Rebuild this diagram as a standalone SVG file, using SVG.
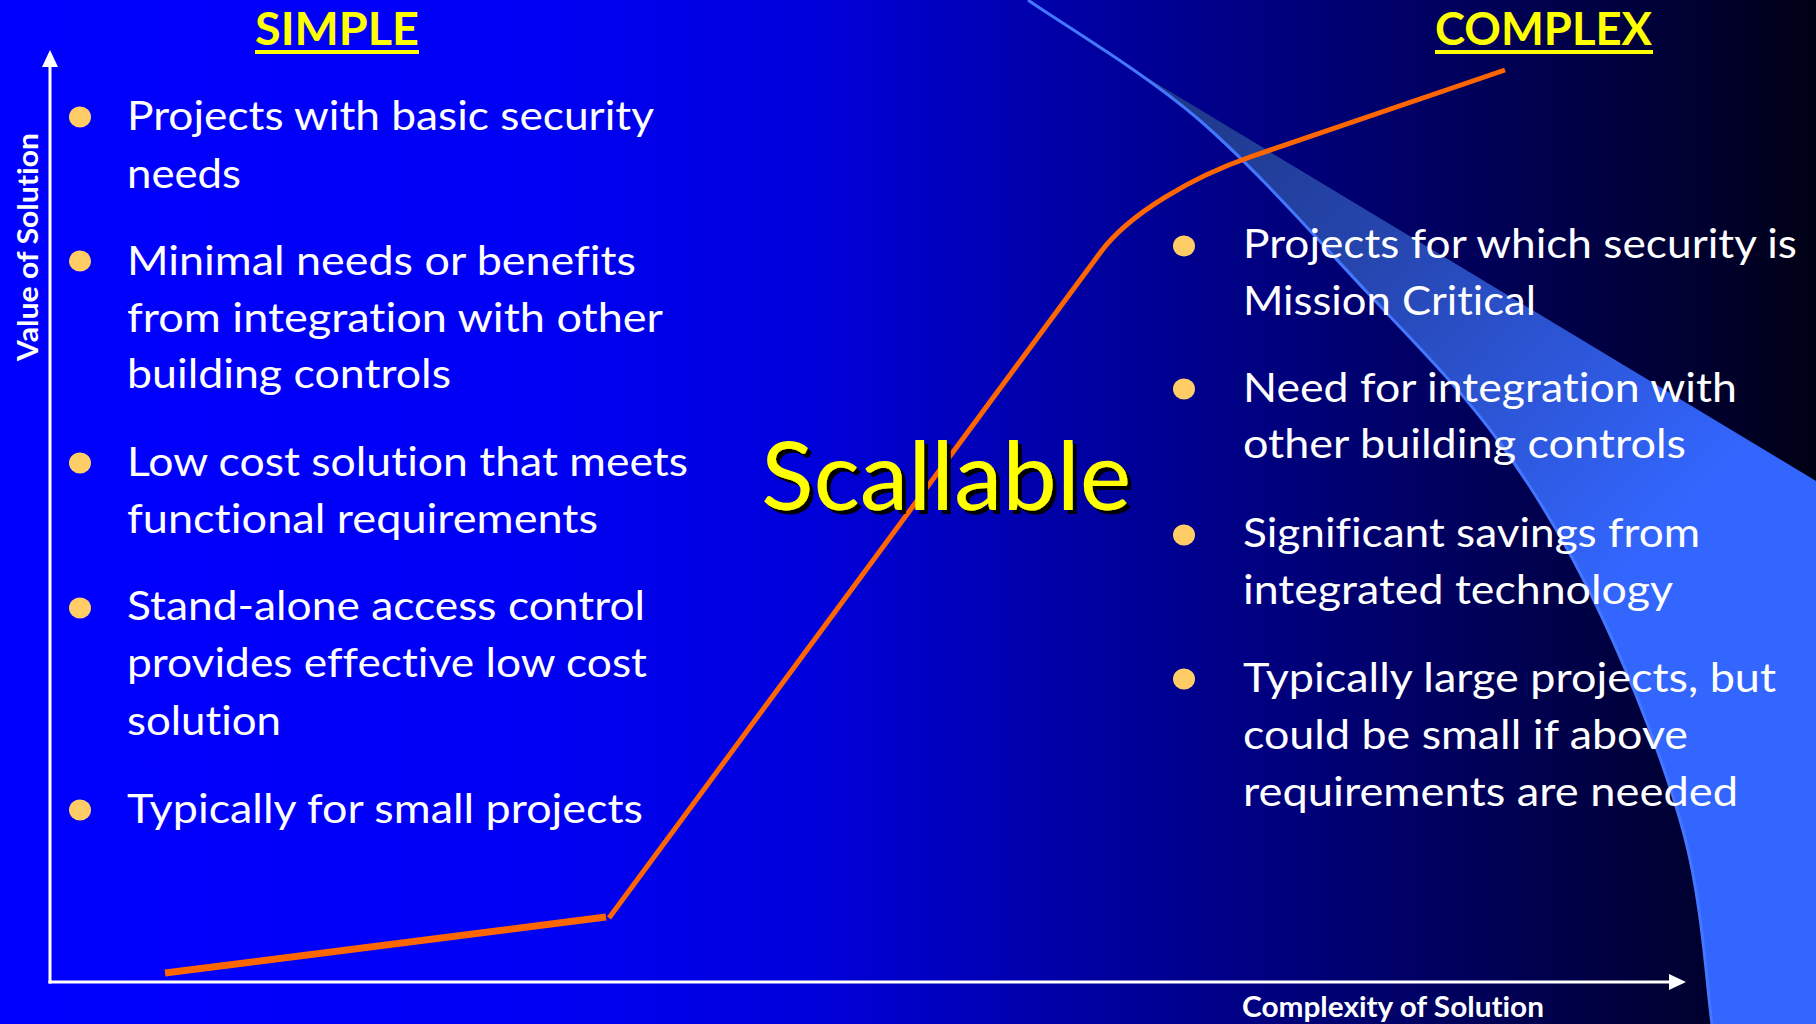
<svg xmlns="http://www.w3.org/2000/svg" width="1816" height="1024" viewBox="0 0 1816 1024">
  <defs>
    <linearGradient id="bg" x1="0" y1="0" x2="1816" y2="0" gradientUnits="userSpaceOnUse">
      <stop offset="0" stop-color="#0000FF"/>
      <stop offset="0.28" stop-color="#0000F6"/>
      <stop offset="0.45" stop-color="#0000DA"/>
      <stop offset="0.617" stop-color="#00009A"/>
      <stop offset="0.782" stop-color="#000064"/>
      <stop offset="0.947" stop-color="#00002C"/>
      <stop offset="1" stop-color="#000014"/>
    </linearGradient>
    <linearGradient id="swoosh" x1="1120" y1="60" x2="1640" y2="560" gradientUnits="userSpaceOnUse">
      <stop offset="0" stop-color="#1C3580"/>
      <stop offset="0.45" stop-color="#2646B0"/>
      <stop offset="1" stop-color="#3366FF"/>
    </linearGradient>
    <filter id="shadow" x="-5%" y="-10%" width="115%" height="130%">
      <feOffset in="SourceAlpha" dx="4" dy="4" result="off"/>
      <feMerge>
        <feMergeNode in="off"/>
        <feMergeNode in="SourceGraphic"/>
      </feMerge>
    </filter>
    <style>
      text { font-variant-ligatures: none; font-feature-settings: "liga" 0, "clig" 0; }
      .body { font-family: Lato, "Open Sans", "Liberation Sans", sans-serif; font-size: 41px; fill: #FFFFFF; }
      .head { font-family: Lato, "Liberation Sans", sans-serif; font-size: 46px; font-weight: bold; fill: #FFFF00; }
      .axis-label { font-family: Lato, "Liberation Sans", sans-serif; font-size: 28px; font-weight: bold; fill: #FFFFFF; }
      .big { font-family: Lato, "Liberation Sans", sans-serif; font-size: 95px; fill: #FFFF00; }
      .bullet { fill: #FFCC66; }
      .axis { stroke: #FFFFFF; stroke-width: 3; fill: none; }
      .curve { stroke: #FF6600; fill: none; stroke-linejoin: round; }
    </style>
  </defs>

  <rect id="background" x="0" y="0" width="1816" height="1024" fill="url(#bg)"/>

  <g id="swoosh-shape">
    <path d="M1028,0 C1056,20 1141,70 1197,118 C1253,166 1314.5,236 1365,290 C1415.5,344 1460.5,388.5 1500,443 C1539.5,497.5 1571.3,551.8 1602,617 C1632.7,682.2 1665.7,766.2 1684,834 C1702.3,901.8 1707.3,992.3 1712,1024 L1816,1024 L1816,481 L1096,47 Z" fill="url(#swoosh)"/>
    <path d="M1028,0 C1056,20 1141,70 1197,118 C1253,166 1314.5,236 1365,290 C1415.5,344 1460.5,388.5 1500,443 C1539.5,497.5 1571.3,551.8 1602,617 C1632.7,682.2 1665.7,766.2 1684,834 C1702.3,901.8 1707.3,992.3 1712,1024" fill="none" stroke="#4477FF" stroke-width="3"/>
  </g>

  <g id="connectors">
    <g id="y-axis">
      <line class="axis" x1="50" y1="64" x2="50" y2="983.5"/>
      <polygon points="50,50 42,67 58,67" fill="#FFFFFF"/>
    </g>
    <g id="x-axis">
      <line class="axis" x1="48.5" y1="982" x2="1671" y2="982"/>
      <polygon points="1686,982 1669,974 1669,990" fill="#FFFFFF"/>
    </g>
    <g id="value-curve">
      <line class="curve" x1="165" y1="973" x2="606" y2="917" stroke-width="7"/>
      <path class="curve" stroke-width="5" d="M609,918 L1100,253 C1129,213 1195,176 1250,157 L1505,70"/>
    </g>
  </g>

  <g id="axis-labels">
    <text class="axis-label" transform="translate(38,361) rotate(-90)" x="0" y="0" textLength="228" lengthAdjust="spacingAndGlyphs">Value of Solution</text>
    <text class="axis-label" x="1242" y="1017" textLength="302" lengthAdjust="spacingAndGlyphs">Complexity of Solution</text>
  </g>

  <g id="simple-heading">
    <text class="head" x="255" y="45" textLength="164" lengthAdjust="spacingAndGlyphs">SIMPLE</text>
    <rect x="255" y="50" width="164" height="4" fill="#FFFF00"/>
  </g>
  <g id="complex-heading">
    <text class="head" x="1435" y="45" textLength="217" lengthAdjust="spacingAndGlyphs">COMPLEX</text>
    <rect x="1435" y="50" width="218" height="4" fill="#FFFF00"/>
  </g>

  <g id="simple-list">
    <g id="simple-1">
      <ellipse class="bullet" cx="80" cy="117" rx="11" ry="10.5"/>
      <text class="body" x="127" y="130" textLength="527" lengthAdjust="spacingAndGlyphs">Projects with basic security</text>
      <text class="body" x="127" y="188" textLength="114" lengthAdjust="spacingAndGlyphs">needs</text>
    </g>
    <g id="simple-2">
      <ellipse class="bullet" cx="80" cy="261" rx="11" ry="10.5"/>
      <text class="body" x="127" y="275" textLength="509" lengthAdjust="spacingAndGlyphs">Minimal needs or benefits</text>
      <text class="body" x="127" y="332" textLength="536" lengthAdjust="spacingAndGlyphs">from integration with other</text>
      <text class="body" x="127" y="388" textLength="324" lengthAdjust="spacingAndGlyphs">building controls</text>
    </g>
    <g id="simple-3">
      <ellipse class="bullet" cx="80" cy="463" rx="11" ry="10.5"/>
      <text class="body" x="127" y="476" textLength="561" lengthAdjust="spacingAndGlyphs">Low cost solution that meets</text>
      <text class="body" x="127" y="533" textLength="471" lengthAdjust="spacingAndGlyphs">functional requirements</text>
    </g>
    <g id="simple-4">
      <ellipse class="bullet" cx="80" cy="608" rx="11" ry="10.5"/>
      <text class="body" x="127" y="620" textLength="518" lengthAdjust="spacingAndGlyphs">Stand-alone access control</text>
      <text class="body" x="127" y="677" textLength="520" lengthAdjust="spacingAndGlyphs">provides effective low cost</text>
      <text class="body" x="127" y="735" textLength="154" lengthAdjust="spacingAndGlyphs">solution</text>
    </g>
    <g id="simple-5">
      <ellipse class="bullet" cx="80" cy="810" rx="11" ry="10.5"/>
      <text class="body" x="127" y="823" textLength="516" lengthAdjust="spacingAndGlyphs">Typically for small projects</text>
    </g>
  </g>

  <g id="complex-list">
    <g id="complex-1">
      <ellipse class="bullet" cx="1184" cy="246" rx="11" ry="10.5"/>
      <text class="body" x="1243" y="258" textLength="554" lengthAdjust="spacingAndGlyphs">Projects for which security is</text>
      <text class="body" x="1243" y="315" textLength="293" lengthAdjust="spacingAndGlyphs">Mission Critical</text>
    </g>
    <g id="complex-2">
      <ellipse class="bullet" cx="1184" cy="389" rx="11" ry="10.5"/>
      <text class="body" x="1243" y="402" textLength="494" lengthAdjust="spacingAndGlyphs">Need for integration with</text>
      <text class="body" x="1243" y="458" textLength="443" lengthAdjust="spacingAndGlyphs">other building controls</text>
    </g>
    <g id="complex-3">
      <ellipse class="bullet" cx="1184" cy="535" rx="11" ry="10.5"/>
      <text class="body" x="1243" y="547" textLength="457" lengthAdjust="spacingAndGlyphs">Significant savings from</text>
      <text class="body" x="1243" y="604" textLength="430" lengthAdjust="spacingAndGlyphs">integrated technology</text>
    </g>
    <g id="complex-4">
      <ellipse class="bullet" cx="1184" cy="679" rx="11" ry="10.5"/>
      <text class="body" x="1243" y="692" textLength="533" lengthAdjust="spacingAndGlyphs">Typically large projects, but</text>
      <text class="body" x="1243" y="749" textLength="445" lengthAdjust="spacingAndGlyphs">could be small if above</text>
      <text class="body" x="1243" y="806" textLength="495" lengthAdjust="spacingAndGlyphs">requirements are needed</text>
    </g>
  </g>

  <g id="scallable">
    <text class="big" x="761" y="510" filter="url(#shadow)" textLength="370" lengthAdjust="spacingAndGlyphs">Scallable</text>
  </g>
</svg>
